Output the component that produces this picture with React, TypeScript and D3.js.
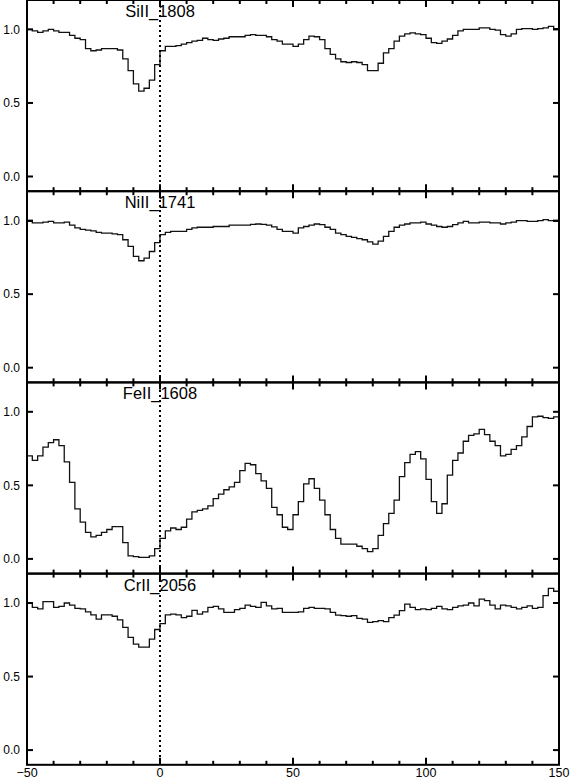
import React, { useEffect, useRef } from "react";
import * as d3 from "d3";

// velocity bins: left edges every 2 units from -50 to 148
const binStart = -50;
const binWidth = 2;

const ions = ["SiII_1808", "NiII_1741", "FeII_1608", "CrII_2056"];

const siII = [
  1.0, 0.99, 0.98, 0.99, 1.0, 0.99, 0.98, 0.98, 0.96, 0.94,
  0.93, 0.87, 0.855, 0.86, 0.87, 0.87, 0.87, 0.86, 0.8, 0.72,
  0.63, 0.58, 0.6, 0.655, 0.76, 0.855, 0.885, 0.885, 0.89, 0.9,
  0.91, 0.92, 0.925, 0.94, 0.93, 0.925, 0.935, 0.94, 0.95, 0.95,
  0.95, 0.96, 0.965, 0.96, 0.96, 0.95, 0.93, 0.92, 0.9, 0.9,
  0.885, 0.9, 0.93, 0.955, 0.95, 0.93, 0.87, 0.83, 0.8, 0.78,
  0.775, 0.78, 0.775, 0.76, 0.72, 0.72, 0.77, 0.84, 0.87, 0.92,
  0.955, 0.97, 0.977, 0.97, 0.965, 0.94, 0.91, 0.905, 0.92, 0.935,
  0.96, 0.99, 1.0, 1.0, 1.0, 1.01, 1.01, 1.0, 0.995, 0.965,
  0.955, 0.97, 1.0, 1.005, 1.005, 1.0, 1.005, 1.01, 1.02, 1.005,
];

const niII = [
  0.995, 0.985, 0.985, 0.99, 0.995, 0.985, 0.985, 0.99, 0.97, 0.95,
  0.94, 0.935, 0.93, 0.92, 0.915, 0.915, 0.91, 0.905, 0.87, 0.825,
  0.757, 0.727, 0.745, 0.79, 0.85, 0.905, 0.92, 0.927, 0.927, 0.927,
  0.94, 0.95, 0.955, 0.955, 0.955, 0.96, 0.96, 0.96, 0.97, 0.97,
  0.97, 0.97, 0.975, 0.977, 0.975, 0.97, 0.957, 0.94, 0.927, 0.927,
  0.915, 0.95, 0.96, 0.97, 0.977, 0.973, 0.955, 0.94, 0.915, 0.905,
  0.893, 0.886, 0.877, 0.87, 0.855, 0.84, 0.86, 0.893, 0.927, 0.955,
  0.97, 0.977, 0.985, 0.985, 0.99, 0.977, 0.97, 0.96, 0.955, 0.96,
  0.973, 0.985, 0.995, 0.985, 0.985, 0.99, 0.99, 0.985, 0.985, 0.977,
  0.985, 0.99, 1.0, 1.0, 0.995, 0.995, 1.0, 1.007, 1.0, 0.995,
];

const feII = [
  0.7, 0.67, 0.7, 0.76, 0.79, 0.81, 0.77, 0.66, 0.52, 0.34,
  0.25, 0.18, 0.15, 0.16, 0.18, 0.2, 0.22, 0.22, 0.11, 0.02,
  0.015, 0.01, 0.01, 0.02, 0.07, 0.14, 0.19, 0.21, 0.2, 0.215,
  0.27, 0.32, 0.33, 0.34, 0.36, 0.41, 0.44, 0.47, 0.49, 0.52,
  0.6, 0.65, 0.64, 0.58, 0.53, 0.48, 0.35, 0.3, 0.215, 0.2,
  0.3, 0.39, 0.51, 0.545, 0.48, 0.4, 0.3, 0.2, 0.14, 0.1,
  0.1, 0.1, 0.086, 0.07, 0.05, 0.07, 0.16, 0.24, 0.31, 0.4,
  0.56, 0.655, 0.71, 0.73, 0.68, 0.54, 0.39, 0.31, 0.375, 0.57,
  0.67, 0.72, 0.8, 0.84, 0.85, 0.88, 0.845, 0.8, 0.77, 0.7,
  0.71, 0.745, 0.77, 0.83, 0.9, 0.965, 0.97, 0.96, 0.955, 0.965,
];

const crII = [
  1.0, 0.97, 0.96, 1.01, 1.01, 0.97, 0.977, 1.0, 0.986, 0.964,
  0.96, 0.94, 0.92, 0.89, 0.92, 0.92, 0.91, 0.886, 0.834, 0.766,
  0.72, 0.7, 0.7, 0.755, 0.82, 0.86, 0.92, 0.925, 0.92, 0.9,
  0.91, 0.95, 0.925, 0.94, 0.97, 0.977, 0.96, 0.936, 0.936, 0.955,
  0.964, 0.986, 0.977, 0.97, 1.005, 0.98, 0.96, 0.964, 0.936, 0.936,
  0.936, 0.94, 0.964, 0.97, 0.964, 0.964, 0.96, 0.936, 0.918, 0.914,
  0.91, 0.914, 0.895, 0.89, 0.868, 0.873, 0.88, 0.873, 0.9, 0.918,
  0.948, 0.993, 0.97, 0.955, 0.96, 0.955, 0.964, 0.977, 0.96, 0.955,
  0.97, 0.98, 0.986, 1.0, 0.98, 1.027, 1.016, 0.986, 0.96, 0.986,
  0.98, 0.97, 0.96, 0.97, 0.98, 0.964, 0.97, 1.05, 1.1, 1.08,
];

const spectra = [siII, niII, feII, crII];

const xTicks = [-50, 0, 50, 100, 150];
const yTicks = [0, 0.5, 1.0];

const W = 574;
const H = 780;

const App = () => {
  const svgRef = useRef<SVGSVGElement>(null);

  useEffect(() => {
    const svg = d3.select(svgRef.current);
    svg.selectAll("*").remove();

    const left = 27;
    const right = 559;
    const top = 0;
    const panelH = 191.2;
    const font = "'Liberation Sans', Arial, Helvetica, sans-serif";

    const x = d3.scaleLinear().domain([-50, 150]).range([left, right]);
    const minorX = d3.range(-50, 151, 10);

    spectra.forEach((vals, p) => {
      const y0 = top + p * panelH;
      const y = d3.scaleLinear().domain([-0.1, 1.2]).range([y0 + panelH, y0]);
      const g = svg.append("g");

      const pts: [number, number][] = vals.map((v, i) => [binStart + i * binWidth, v]);
      pts.push([binStart + vals.length * binWidth, vals[vals.length - 1]]);

      const line = d3
        .line<[number, number]>()
        .x((d) => x(d[0]))
        .y((d) => y(d[1]))
        .curve(d3.curveStepAfter);

      g.append("path")
        .attr("d", line(pts))
        .attr("fill", "none")
        .attr("stroke", "#111")
        .attr("stroke-width", 1.3);

      // frame
      g.append("rect")
        .attr("x", left)
        .attr("y", y0)
        .attr("width", right - left)
        .attr("height", panelH)
        .attr("fill", "none")
        .attr("stroke", "#000")
        .attr("stroke-width", 2);

      // x ticks, inward from top and bottom
      minorX.forEach((t) => {
        const len = t % 50 === 0 ? 7 : 4;
        g.append("line")
          .attr("x1", x(t)).attr("x2", x(t))
          .attr("y1", y0).attr("y2", y0 + len)
          .attr("stroke", "#000").attr("stroke-width", 2);
        g.append("line")
          .attr("x1", x(t)).attr("x2", x(t))
          .attr("y1", y0 + panelH).attr("y2", y0 + panelH - len)
          .attr("stroke", "#000").attr("stroke-width", 2);
      });

      // y ticks on both sides, labels on the left
      yTicks.forEach((t) => {
        g.append("line")
          .attr("x1", left).attr("x2", left + 6)
          .attr("y1", y(t)).attr("y2", y(t))
          .attr("stroke", "#000").attr("stroke-width", 2);
        g.append("line")
          .attr("x1", right).attr("x2", right - 6)
          .attr("y1", y(t)).attr("y2", y(t))
          .attr("stroke", "#000").attr("stroke-width", 2);
        g.append("text")
          .attr("x", 20)
          .attr("y", y(t))
          .attr("dy", "0.35em")
          .attr("text-anchor", "end")
          .attr("font-family", font)
          .attr("font-size", 12)
          .text(d3.format(".1f")(t));
      });

      g.append("text")
        .attr("x", x(0))
        .attr("y", y0 + 17)
        .attr("text-anchor", "middle")
        .attr("font-family", font)
        .attr("font-size", 16.5)
        .text(ions[p]);
    });

    const bottom = top + spectra.length * panelH;

    // zero velocity marker
    svg.append("line")
      .attr("x1", x(0)).attr("x2", x(0))
      .attr("y1", top).attr("y2", bottom)
      .attr("stroke", "#000")
      .attr("stroke-width", 2)
      .attr("stroke-dasharray", "2,3");

    xTicks.forEach((t) => {
      svg.append("text")
        .attr("x", x(t))
        .attr("y", 777)
        .attr("text-anchor", "middle")
        .attr("font-family", font)
        .attr("font-size", 12.5)
        .text(t < 0 ? "\u2212" + Math.abs(t) : String(t));
    });
  }, []);

  return (
    <svg
      ref={svgRef}
      width={W}
      height={H}
      viewBox={`0 0 ${W} ${H}`}
      style={{ position: "absolute", left: 0, top: 0, background: "#fff" }}
    />
  );
};

export default App;
